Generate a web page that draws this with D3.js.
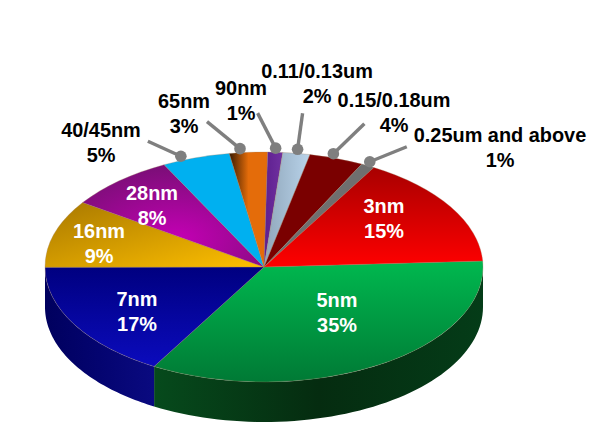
<!DOCTYPE html>
<html><head><meta charset="utf-8">
<script src="https://cdn.jsdelivr.net/npm/d3@7"></script>
<style>html,body{margin:0;padding:0;background:#fff}svg{display:block}text{font-family:"Liberation Sans",Arial,sans-serif;font-weight:700;font-size:19.9px}</style>
</head><body><svg id="c" width="595" height="431"></svg>
<script>
// Data, clockwise from the 5nm slice
const categories = ["5nm","7nm","16nm","28nm","40/45nm","65nm","90nm","0.11/0.13um","0.15/0.18um","0.25um and above","3nm"];
const shownPercent = [35,17,9,8,5,3,1,2,4,1,15];
const drawnShare = [34.2,16.6,9.5,8,5,2.8,1.1,2,4,1,15.8];
// Styling, same order
const faceTop = ["#00b84f","#000080","#a87800","#7c0e78","#00b0f0","#3a1a00","#5e1f8f","#8fa6ba","#7a0000","#6f6f6f","#a80000"];
const faceMid = [null,null,null,null,null,"#e46c0a",null,null,null,null,null];
const faceBottom = ["#007a35","#0b0bbd","#ffc000","#c400b4","#00b0f0","#e46c0a","#7030a0","#b9d3ea","#7a0000","#6f6f6f","#ff0000"];
const faceAxis = ["v","v","d","r","v","h","h","h","v","v","v"];
const sideLeft = ["#064a1c","#00005e"];
const sideMid = ["#052c10","#040470"];
const sideRight = ["#043c18","#0a0a80"];
const labelX = [337,137,99,152,101,184,241,317,394,500,384];
const labelY = [307,306,238,200,137,108,95,78,107,142,213];
const inside = [1,1,1,1,0,0,0,0,0,0,1];
const leaderNudge = [0,0,0,0,-3.4,-2,0,0,-1.5,-0.5,0];
const leaderDX = [0,0,0,0,-33,-33,-18,5,31,37,0];
const leaderDY = [0,0,0,0,-15,-27,-35,-36,-30,-15,0];

const W=595,H=431,cx=264,cy=267,rx=219,ry=115,depth=40,startDeg=-3;
const svg=d3.select("#c"),defs=svg.append("defs");
const rad=d3.scaleLinear().domain([0,1]).range([0,rx]);
const pie=d3.pie().sort(null).value(d=>d).startAngle((startDeg+90)*Math.PI/180).endAngle((startDeg+450)*Math.PI/180);
const arcs=pie(drawnShare);
const arc=d3.arc().innerRadius(0).outerRadius(rad(1));
const pt=(a,r=1)=>[cx+rad(r)*Math.sin(a),cy-ry*r*Math.cos(a)];

function grad(id,c0,cm,c1,axis){
  let g;
  if(axis==="r"){
    g=defs.append("radialGradient").attr("id",id).attr("cx",.52).attr("cy",.72).attr("r",.7);
    g.append("stop").attr("offset",0).attr("stop-color",c1);
    g.append("stop").attr("offset",1).attr("stop-color",c0);
    return;
  }
  g=defs.append("linearGradient").attr("id",id).attr("x1",0).attr("y1",0)
    .attr("x2",axis==="v"?0:1).attr("y2",axis==="h"?0:1);
  g.append("stop").attr("offset",0).attr("stop-color",c0);
  if(cm)g.append("stop").attr("offset",.5).attr("stop-color",cm);
  g.append("stop").attr("offset",1).attr("stop-color",c1);
}
// side wall
const wall=svg.append("g");
[0,1].forEach(i=>{
  grad("s"+i,sideLeft[i],sideMid[i],sideRight[i],"h");
  const a0=Math.max(arcs[i].startAngle,Math.PI/2),a1=Math.min(arcs[i].endAngle,3*Math.PI/2);
  const as=d3.range(0,61).map(k=>a0+(a1-a0)*k/60);
  const top=as.map(a=>pt(a));
  const bot=as.map(a=>{const p=pt(a);return[p[0],p[1]+depth]}).reverse();
  wall.append("path").attr("d",d3.line()(top.concat(bot))+"Z").attr("fill",`url(#s${i})`);
});
// faces
const face=svg.append("g").attr("transform",`translate(${cx},${cy}) scale(1,${ry/rx})`);
arcs.forEach((d,i)=>{
  grad("f"+i,faceTop[i],faceMid[i],faceBottom[i],faceAxis[i]);
  face.append("path").attr("d",arc(d)).attr("fill",`url(#f${i})`)
    .attr("stroke","#a08060").attr("stroke-opacity",.5).attr("stroke-width",.6).attr("vector-effect","non-scaling-stroke");
});
// leaders
arcs.forEach((d,i)=>{
  if(inside[i])return;
  const p=pt((d.startAngle+d.endAngle)/2+leaderNudge[i]*Math.PI/180,1.035);
  svg.append("line").attr("x1",p[0]).attr("y1",p[1]).attr("x2",p[0]+leaderDX[i]).attr("y2",p[1]+leaderDY[i])
    .attr("stroke","#7f7f7f").attr("stroke-width",3.4);
  svg.append("circle").attr("cx",p[0]).attr("cy",p[1]).attr("r",5.8).attr("fill","#7f7f7f");
});
// labels
categories.forEach((c,i)=>{
  const t=svg.append("text").attr("text-anchor","middle").attr("fill",inside[i]?"#fff":"#000");
  t.append("tspan").attr("x",labelX[i]).attr("y",labelY[i]).text(c);
  t.append("tspan").attr("x",labelX[i]).attr("y",labelY[i]+24.5).text(shownPercent[i]+"%");
});
</script></body></html>
